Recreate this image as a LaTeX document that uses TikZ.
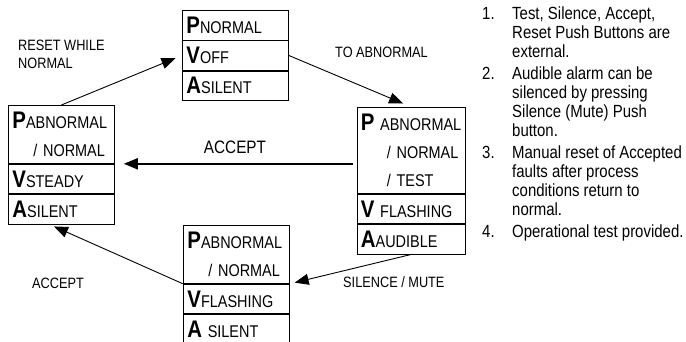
\documentclass[tikz,border=0pt]{standalone}
\usepackage{fontspec}
\setmainfont[FakeStretch=0.85]{Liberation Sans}
\usetikzlibrary{positioning,arrows.meta}
\newcommand{\sletter}[1]{{\fontsize{24}{24}\selectfont\bfseries #1}}
\hyphenpenalty=10000

\begin{document}
\begin{tikzpicture}[x=1pt,y=-1pt,font=\fontsize{17}{28}\selectfont]
  \tikzstyle{cell}=[draw,line width=0.8pt,minimum height=29.5pt,text width=98pt,align=left,inner xsep=4pt,inner ysep=0pt]
  \tikzstyle{wide cell}=[cell,text width=101pt,inner xsep=3.5pt]
  \tikzstyle{link}=[line width=0.9pt,-{Triangle[length=14pt,width=11pt]}]
  \tikzstyle{tag}=[font=\fontsize{15}{18}\selectfont,align=left,inner sep=0pt]
  \tikzstyle{notes}=[font=\fontsize{17.6}{19}\selectfont,align=left,inner sep=0pt]

  \useasboundingbox (0,0) rectangle (686,341);

  % normal
  \node(p1)[cell,anchor=north west] at (182,10) {\sletter{P}NORMAL};
  \node(v1)[cell,below right=0pt of p1.south west] {\sletter{V}OFF};
  \node(a1)[cell,below right=0pt of v1.south west] {\sletter{A}SILENT};

  % alarm
  \node(p2)[wide cell,anchor=north west,minimum height=86pt] at (357,107)
      {\sletter{P}~ABNORMAL\\\hspace*{26pt}/ NORMAL\\\hspace*{26pt}/ TEST};
  \node(v2)[wide cell,below right=0pt of p2.south west] {\sletter{V}~FLASHING};
  \node(a2)[wide cell,below right=0pt of v2.south west] {\sletter{A}AUDIBLE};

  % silenced
  \node(p3)[cell,anchor=north west,minimum height=58pt] at (183,225)
      {\sletter{P}ABNORMAL\\\hspace*{21pt}/ NORMAL};
  \node(v3)[cell,below right=0pt of p3.south west] {\sletter{V}FLASHING};
  \node(a3)[cell,below right=0pt of v3.south west] {\sletter{A}~SILENT};

  % acknowledged
  \node(p4)[cell,anchor=north west,minimum height=58pt] at (8,105)
      {\sletter{P}ABNORMAL\\\hspace*{21pt}/ NORMAL};
  \node(v4)[cell,below right=0pt of p4.south west] {\sletter{V}STEADY};
  \node(a4)[cell,below right=0pt of v4.south west] {\sletter{A}SILENT};

  % transitions
  \draw[link,shorten >=7pt] (p4.north) -- (v1.west);
  \draw[link,shorten >=9pt] (v1.east) -- (p2.north);
  \draw[link,line width=1.8pt,shorten <=4pt,shorten >=9pt] (p2.west |- p4.south) -- (p4.south east);
  \draw[link,shorten >=5pt] (a2.south) -- (p3.south east);
  \draw[link,shorten >=5pt] (p3.south west) -- ([xshift=-12pt]a4.south);

  \node(reset)[tag,anchor=base west] at (18,68.4) {RESET WHILE\\NORMAL};
  \node(toabn)[tag,anchor=base west] at (335,57.5) {TO ABNORMAL};
  \node(acc1)[tag,font=\fontsize{18}{18}\selectfont,anchor=base] at (235,153.5) {ACCEPT};
  \node(acc2)[tag,anchor=base west] at (32,288.5) {ACCEPT};
  \node(mute)[tag,anchor=base west] at (343,287.5) {SILENCE / MUTE};

  % notes
  \node(list)[notes,anchor=base west] at (482,237) {%
    \makebox[30pt][l]{1.}Test, Silence, Accept,\\
    \hspace*{30pt}Reset Push Buttons are\\
    \hspace*{30pt}external.\\[3pt]
    \makebox[30pt][l]{2.}Audible alarm can be\\
    \hspace*{30pt}silenced by pressing\\
    \hspace*{30pt}Silence (Mute) Push\\
    \hspace*{30pt}button.\\[3pt]
    \makebox[30pt][l]{3.}Manual reset of Accepted\\
    \hspace*{30pt}faults after process\\
    \hspace*{30pt}conditions return to\\
    \hspace*{30pt}normal.\\[3pt]
    \makebox[30pt][l]{4.}Operational test provided.};
\end{tikzpicture}
\end{document}
